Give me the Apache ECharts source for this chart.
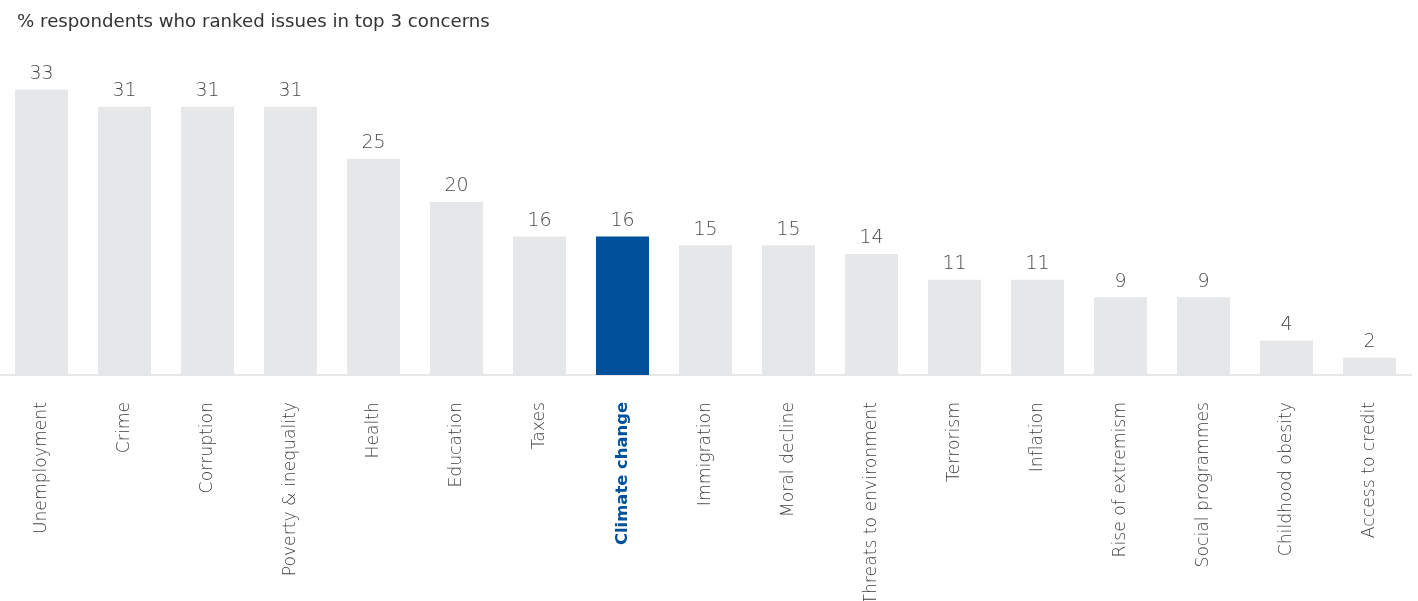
<!DOCTYPE html>
<html>
<head>
<meta charset="utf-8">
<style>
  html, body { margin: 0; padding: 0; background: #ffffff; }
  #chart { width: 1418px; height: 601px; }
</style>
<script src="https://cdn.jsdelivr.net/npm/echarts@6/dist/echarts.min.js"></script>
</head>
<body>
<div id="chart"></div>
<script>
// Share of respondents ranking each issue among their top 3 concerns
const titleText = '% respondents who ranked issues in top 3 concerns';
const categories = [
  'Unemployment', 'Crime', 'Corruption', 'Poverty & inequality', 'Health',
  'Education', 'Taxes', 'Climate change', 'Immigration', 'Moral decline',
  'Threats to environment', 'Terrorism', 'Inflation', 'Rise of extremism',
  'Social programmes', 'Childhood obesity', 'Access to credit'
];
const values = [33, 31, 31, 31, 25, 20, 16, 16, 15, 15, 14, 11, 11, 9, 9, 4, 2];
const highlighted = 'Climate change';

const GREY = '#e6e7e8';
const BLUE = '#00519b';
const FONT = 'DejaVu Sans';

const chart = echarts.init(document.getElementById('chart'), null, { renderer: 'canvas' });

const barData = values.map((v, i) => ({
  value: v,
  itemStyle: { color: categories[i] === highlighted ? BLUE : GREY }
}));

chart.setOption({
  animation: false,
  backgroundColor: '#ffffff',
  title: {
    text: titleText,
    left: 12,
    top: 8,
    textStyle: { fontFamily: FONT, fontSize: 18.2, fontWeight: 'normal', color: '#333333' }
  },
  grid: {
    left: 0, right: 7, top: 29, bottom: 226,
    containLabel: false,
    outerBoundsMode: 'none'
  },
  xAxis: {
    type: 'category',
    data: categories,
    axisLine: { show: true, lineStyle: { color: '#e6e7e8', width: 2 } },
    axisTick: { show: false },
    axisLabel: {
      rotate: 90,
      margin: 27,
      interval: 0,
      hideOverlap: false,
      fontFamily: FONT,
      fontSize: 17.2,
      fontWeight: 200,
      color: '#404040',
      formatter: (name) => name === highlighted ? '{hl|' + name + '}' : name,
      rich: {
        hl: { fontFamily: FONT, fontSize: 16.4, fontWeight: 'bold', color: BLUE }
      }
    }
  },
  yAxis: {
    type: 'value',
    min: 0,
    max: 40,
    show: false,
    splitLine: { show: false }
  },
  series: [{
    type: 'bar',
    data: barData,
    barWidth: 53,
    label: {
      show: true,
      position: 'top',
      distance: 6,
      fontFamily: FONT,
      fontSize: 19,
      fontWeight: 200,
      color: '#4a4a4a'
    }
  }]
});
</script>
</body>
</html>
